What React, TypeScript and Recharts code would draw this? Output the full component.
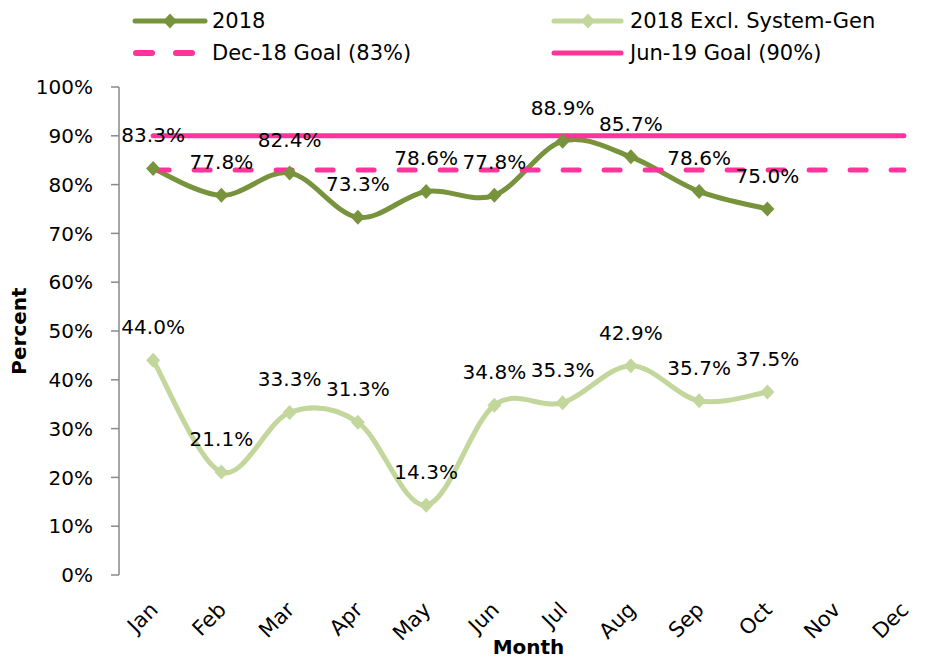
import React from 'react';
import { LineChart, Line, XAxis, YAxis, Legend, LabelList, Label } from 'recharts';

const months = ['Jan', 'Feb', 'Mar', 'Apr', 'May', 'Jun', 'Jul', 'Aug', 'Sep', 'Oct', 'Nov', 'Dec'];
const series2018 = [83.3, 77.8, 82.4, 73.3, 78.6, 77.8, 88.9, 85.7, 78.6, 75.0];
const seriesExcl = [44.0, 21.1, 33.3, 31.3, 14.3, 34.8, 35.3, 42.9, 35.7, 37.5];
const goalDec18 = 83;
const goalJun19 = 90;
const yTicks = [0, 10, 20, 30, 40, 50, 60, 70, 80, 90, 100];

const FONT = '"DejaVu Sans", sans-serif';
const OLIVE = '#77933C';
const LIGHT = '#C3D69B';
const PINK = '#FF3399';
const GRAY = '#898989';

const data = months.map((m, i) => ({
  idx: i,
  month: m,
  y2018: series2018[i] ?? null,
  excl: seriesExcl[i] ?? null,
  g83: goalDec18,
  g90: goalJun19,
}));

const monthIdx = months.map((_, i) => i);
const edgeTicks = months.map((_, i) => i - 0.5).concat([months.length - 0.5]);

// Excel-like smoothing (Catmull-Rom style Bezier)
function excelSmooth(context: any) {
  let pts: [number, number][] = [];
  return {
    areaStart() {},
    areaEnd() {},
    lineStart() {
      pts = [];
    },
    lineEnd() {
      const n = pts.length;
      if (n === 0) return;
      context.moveTo(pts[0][0], pts[0][1]);
      for (let i = 0; i < n - 1; i++) {
        const p0 = pts[i - 1] || pts[i];
        const p1 = pts[i];
        const p2 = pts[i + 1];
        const p3 = pts[i + 2] || pts[i + 1];
        const c1x = p1[0] + (p2[0] - p0[0]) / 6;
        const c1y = p1[1] + (p2[1] - p0[1]) / 6;
        const c2x = p2[0] - (p3[0] - p1[0]) / 6;
        const c2y = p2[1] - (p3[1] - p1[1]) / 6;
        context.bezierCurveTo(c1x, c1y, c2x, c2y, p2[0], p2[1]);
      }
    },
    point(x: number, y: number) {
      pts.push([+x, +y]);
    },
  };
}

const makeDiamond = (color: string) => (props: any) => {
  const { cx, cy, index } = props;
  if (cx == null || cy == null || props.value == null) return <g key={`d-${index}`} />;
  const w = 7;
  const h = 7.5;
  return (
    <path
      key={`d-${index}`}
      d={`M${cx},${cy - h}L${cx + w},${cy}L${cx},${cy + h}L${cx - w},${cy}Z`}
      fill={color}
      stroke="none"
    />
  );
};

const renderValueLabel = (props: any) => {
  const { x, y, value, index } = props;
  if (value == null || x == null || y == null) return null;
  return (
    <text
      key={`l-${index}`}
      x={x}
      y={y - 33}
      textAnchor="middle"
      dominantBaseline="central"
      fontFamily={FONT}
      fontSize={20}
      fill="#000"
    >
      {Number(value).toFixed(1)}%
    </text>
  );
};

const MonthTick = (props: any) => {
  const { x, y, payload } = props;
  const ex = x + 6;
  const ey = y + 36;
  return (
    <text
      x={ex}
      y={ey}
      textAnchor="end"
      transform={`rotate(-45 ${ex} ${ey})`}
      fontFamily={FONT}
      fontSize={21}
      fill="#000"
    >
      {months[payload.value]}
    </text>
  );
};

const LegendContent = () => {
  const tStyle = { fontFamily: FONT, fontSize: 21, fill: '#000' } as any;
  const r1 = 21;
  const r2 = 53;
  const dia = (cx: number, cy: number, c: string) => (
    <path d={`M${cx},${cy - 7.5}L${cx + 7},${cy}L${cx},${cy + 7.5}L${cx - 7},${cy}Z`} fill={c} />
  );
  return (
    <svg width={926} height={75}>
      <line x1={135} x2={205} y1={r1} y2={r1} stroke={OLIVE} strokeWidth={5} strokeLinecap="round" />
      {dia(170, r1, OLIVE)}
      <text x={212} y={r1} dominantBaseline="central" {...tStyle}>2018</text>

      <line x1={554} x2={621} y1={r1} y2={r1} stroke={LIGHT} strokeWidth={5} strokeLinecap="round" />
      {dia(588, r1, LIGHT)}
      <text x={630} y={r1} dominantBaseline="central" {...tStyle}>2018 Excl. System-Gen</text>

      <line x1={136} x2={195} y1={r2} y2={r2} stroke={PINK} strokeWidth={6} strokeLinecap="round" strokeDasharray="16 24" />
      <text x={212} y={r2} dominantBaseline="central" {...tStyle}>Dec-18 Goal (83%)</text>

      <line x1={554} x2={621} y1={r2} y2={r2} stroke={PINK} strokeWidth={5} strokeLinecap="round" />
      <text x={630} y={r2} dominantBaseline="central" {...tStyle}>Jun-19 Goal (90%)</text>
    </svg>
  );
};

export default function App() {
  return (
    <div
      style={{
        position: 'absolute',
        left: 0,
        top: 0,
        width: 926,
        height: 660,
        overflow: 'hidden',
        background: '#fff',
      }}
    >
      <LineChart
        width={950}
        height={660}
        data={data}
        margin={{ top: 87, right: 12, bottom: 0, left: 0 }}
        style={{ fontFamily: FONT }}
      >
        <XAxis
          xAxisId="edges"
          type="number"
          dataKey="idx"
          domain={[-0.5, months.length - 0.5]}
          ticks={edgeTicks}
          interval={0}
          height={0}
          tick={() => <g />}
          tickLine={{ stroke: GRAY, strokeWidth: 1.5 }}
          tickSize={8}
          axisLine={{ stroke: GRAY, strokeWidth: 1.5 }}
        />
        <XAxis
          type="number"
          dataKey="idx"
          domain={[-0.5, months.length - 0.5]}
          ticks={monthIdx}
          interval={0}
          height={85}
          tick={<MonthTick />}
          tickLine={false}
          tickSize={0}
          tickMargin={0}
          axisLine={false}
        >
          <Label
            content={(p: any) => {
              const vb = p.viewBox || {};
              const cx = vb.x + vb.width / 2;
              return (
                <text
                  x={cx}
                  y={vb.y + 72}
                  textAnchor="middle"
                  dominantBaseline="central"
                  fontFamily={FONT}
                  fontWeight="bold"
                  fontSize={20}
                  fill="#000"
                >
                  Month
                </text>
              );
            }}
          />
        </XAxis>
        <YAxis
          domain={[0, 100]}
          ticks={yTicks}
          interval={0}
          width={119}
          tickFormatter={(v: number) => `${v}%`}
          tick={{ fill: '#000', fontSize: 20, fontFamily: FONT }}
          tickLine={{ stroke: GRAY, strokeWidth: 1.5 }}
          tickSize={8}
          tickMargin={18}
          axisLine={{ stroke: GRAY, strokeWidth: 1.5 }}
        >
          <Label
            content={(p: any) => {
              const vb = p.viewBox || {};
              const cy = vb.y + vb.height / 2;
              const cx = 19;
              return (
                <text
                  x={cx}
                  y={cy}
                  textAnchor="middle"
                  dominantBaseline="central"
                  transform={`rotate(-90 ${cx} ${cy})`}
                  fontFamily={FONT}
                  fontWeight="bold"
                  fontSize={20}
                  fill="#000"
                >
                  Percent
                </text>
              );
            }}
          />
        </YAxis>
        <Legend
          verticalAlign="middle"
          align="center"
          layout="horizontal"
          wrapperStyle={{ top: 0, left: 0, width: 926, height: 75 }}
          content={<LegendContent />}
        />
        <Line
          dataKey="y2018"
          type={excelSmooth as any}
          stroke={OLIVE}
          strokeWidth={5}
          dot={makeDiamond(OLIVE)}
          activeDot={false}
          isAnimationActive={false}
        />
        <Line
          dataKey="excl"
          type={excelSmooth as any}
          stroke={LIGHT}
          strokeWidth={5}
          dot={makeDiamond(LIGHT)}
          activeDot={false}
          isAnimationActive={false}
        />
        <Line
          dataKey="g83"
          type="linear"
          stroke={PINK}
          strokeWidth={5}
          strokeDasharray="16 25"
          strokeLinecap="round"
          dot={false}
          activeDot={false}
          isAnimationActive={false}
        />
        <Line
          dataKey="g90"
          type="linear"
          stroke={PINK}
          strokeWidth={5}
          strokeLinecap="round"
          dot={false}
          activeDot={false}
          isAnimationActive={false}
        />
        <Line
          dataKey="y2018"
          type="linear"
          stroke="none"
          dot={false}
          activeDot={false}
          legendType="none"
          isAnimationActive={false}
        >
          <LabelList dataKey="y2018" content={renderValueLabel} />
        </Line>
        <Line
          dataKey="excl"
          type="linear"
          stroke="none"
          dot={false}
          activeDot={false}
          legendType="none"
          isAnimationActive={false}
        >
          <LabelList dataKey="excl" content={renderValueLabel} />
        </Line>
      </LineChart>
    </div>
  );
}
